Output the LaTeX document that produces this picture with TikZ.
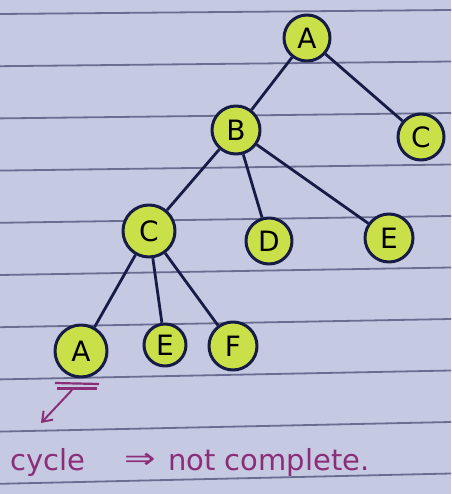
\documentclass[tikz,border=0pt]{standalone}
\usepackage{amsmath,amssymb}
\usepackage{xcolor}
\usepackage{fontspec}
\setmainfont{DejaVu Sans}
\usepackage{tikz}
\usetikzlibrary{arrows.meta,calc}
\definecolor{paper}{RGB}{197,201,226}
\definecolor{rulecol}{RGB}{105,110,145}
\definecolor{leaf}{RGB}{202,224,72}
\definecolor{ink}{RGB}{22,28,70}
\definecolor{pen}{RGB}{140,45,120}

\begin{document}
\begin{tikzpicture}[x=1pt,y=-1pt,>=Stealth,line join=round,
  vtx/.style={circle,draw=ink,fill=leaf,line width=3pt,minimum size=46pt,inner sep=0pt,
    font=\fontsize{28}{28}\selectfont},
  edge/.style={ink,line width=2.8pt},
  rule/.style={rulecol,line width=1.8pt},
  note/.style={pen,anchor=base west,inner sep=0pt,font=\fontsize{29}{29}\selectfont}]
  \fill[paper] (0,0) rectangle (451,494);
  \useasboundingbox (0,0) rectangle (451,494);
  \foreach \i in {0,...,9}
    \draw[rule] (0,{14+52.2*\i}) -- (451,{10+51.5*\i});
  \node[vtx] (A1) at (307,38) {A};
  \node[vtx,minimum size=48pt] (B) at (236,130) {B};
  \node[vtx] (C1) at (421,137) {C};
  \node[vtx,minimum size=52pt] (C2) at (149,231) {C};
  \node[vtx] (D) at (269,241) {D};
  \node[vtx,minimum size=48pt] (E1) at (389,238) {E};
  \node[vtx,minimum size=52pt] (A2) at (81,351) {A};
  \node[vtx,minimum size=42pt] (E2) at (165,345) {E};
  \node[vtx,minimum size=48pt] (F) at (233,346) {F};
  \draw[edge] (A1) -- (B);
  \draw[edge] (A1) -- (C1);
  \draw[edge] (B) -- (C2);
  \draw[edge] (B) -- (D);
  \draw[edge] (B) -- (E1);
  \draw[edge] (C2) -- (A2);
  \draw[edge] (C2) -- (E2);
  \draw[edge] (C2) -- (F);
  \coordinate (u1) at (55,383);
  \coordinate (u2) at (99,384);
  \coordinate (u3) at (57,388.5);
  \coordinate (u4) at (97,388.5);
  \draw[pen,line width=2.2pt] (u1) -- (u2);
  \draw[pen,line width=2.2pt] (u3) -- (u4);
  \coordinate (p0) at (72,390);
  \coordinate (p1) at (41,423);
  \draw[pen,line width=2pt,-{Straight Barb[length=9pt,width=13pt]}] (p0) -- (p1);
  \node[note] (cyc) at (10,470) {cycle};
  \node[note] (imp) at (124,468) {\scalebox{1.3}[1]{⇒}};
  \node[note] (nc) at (168,470) {not complete.};
\end{tikzpicture}
\end{document}
